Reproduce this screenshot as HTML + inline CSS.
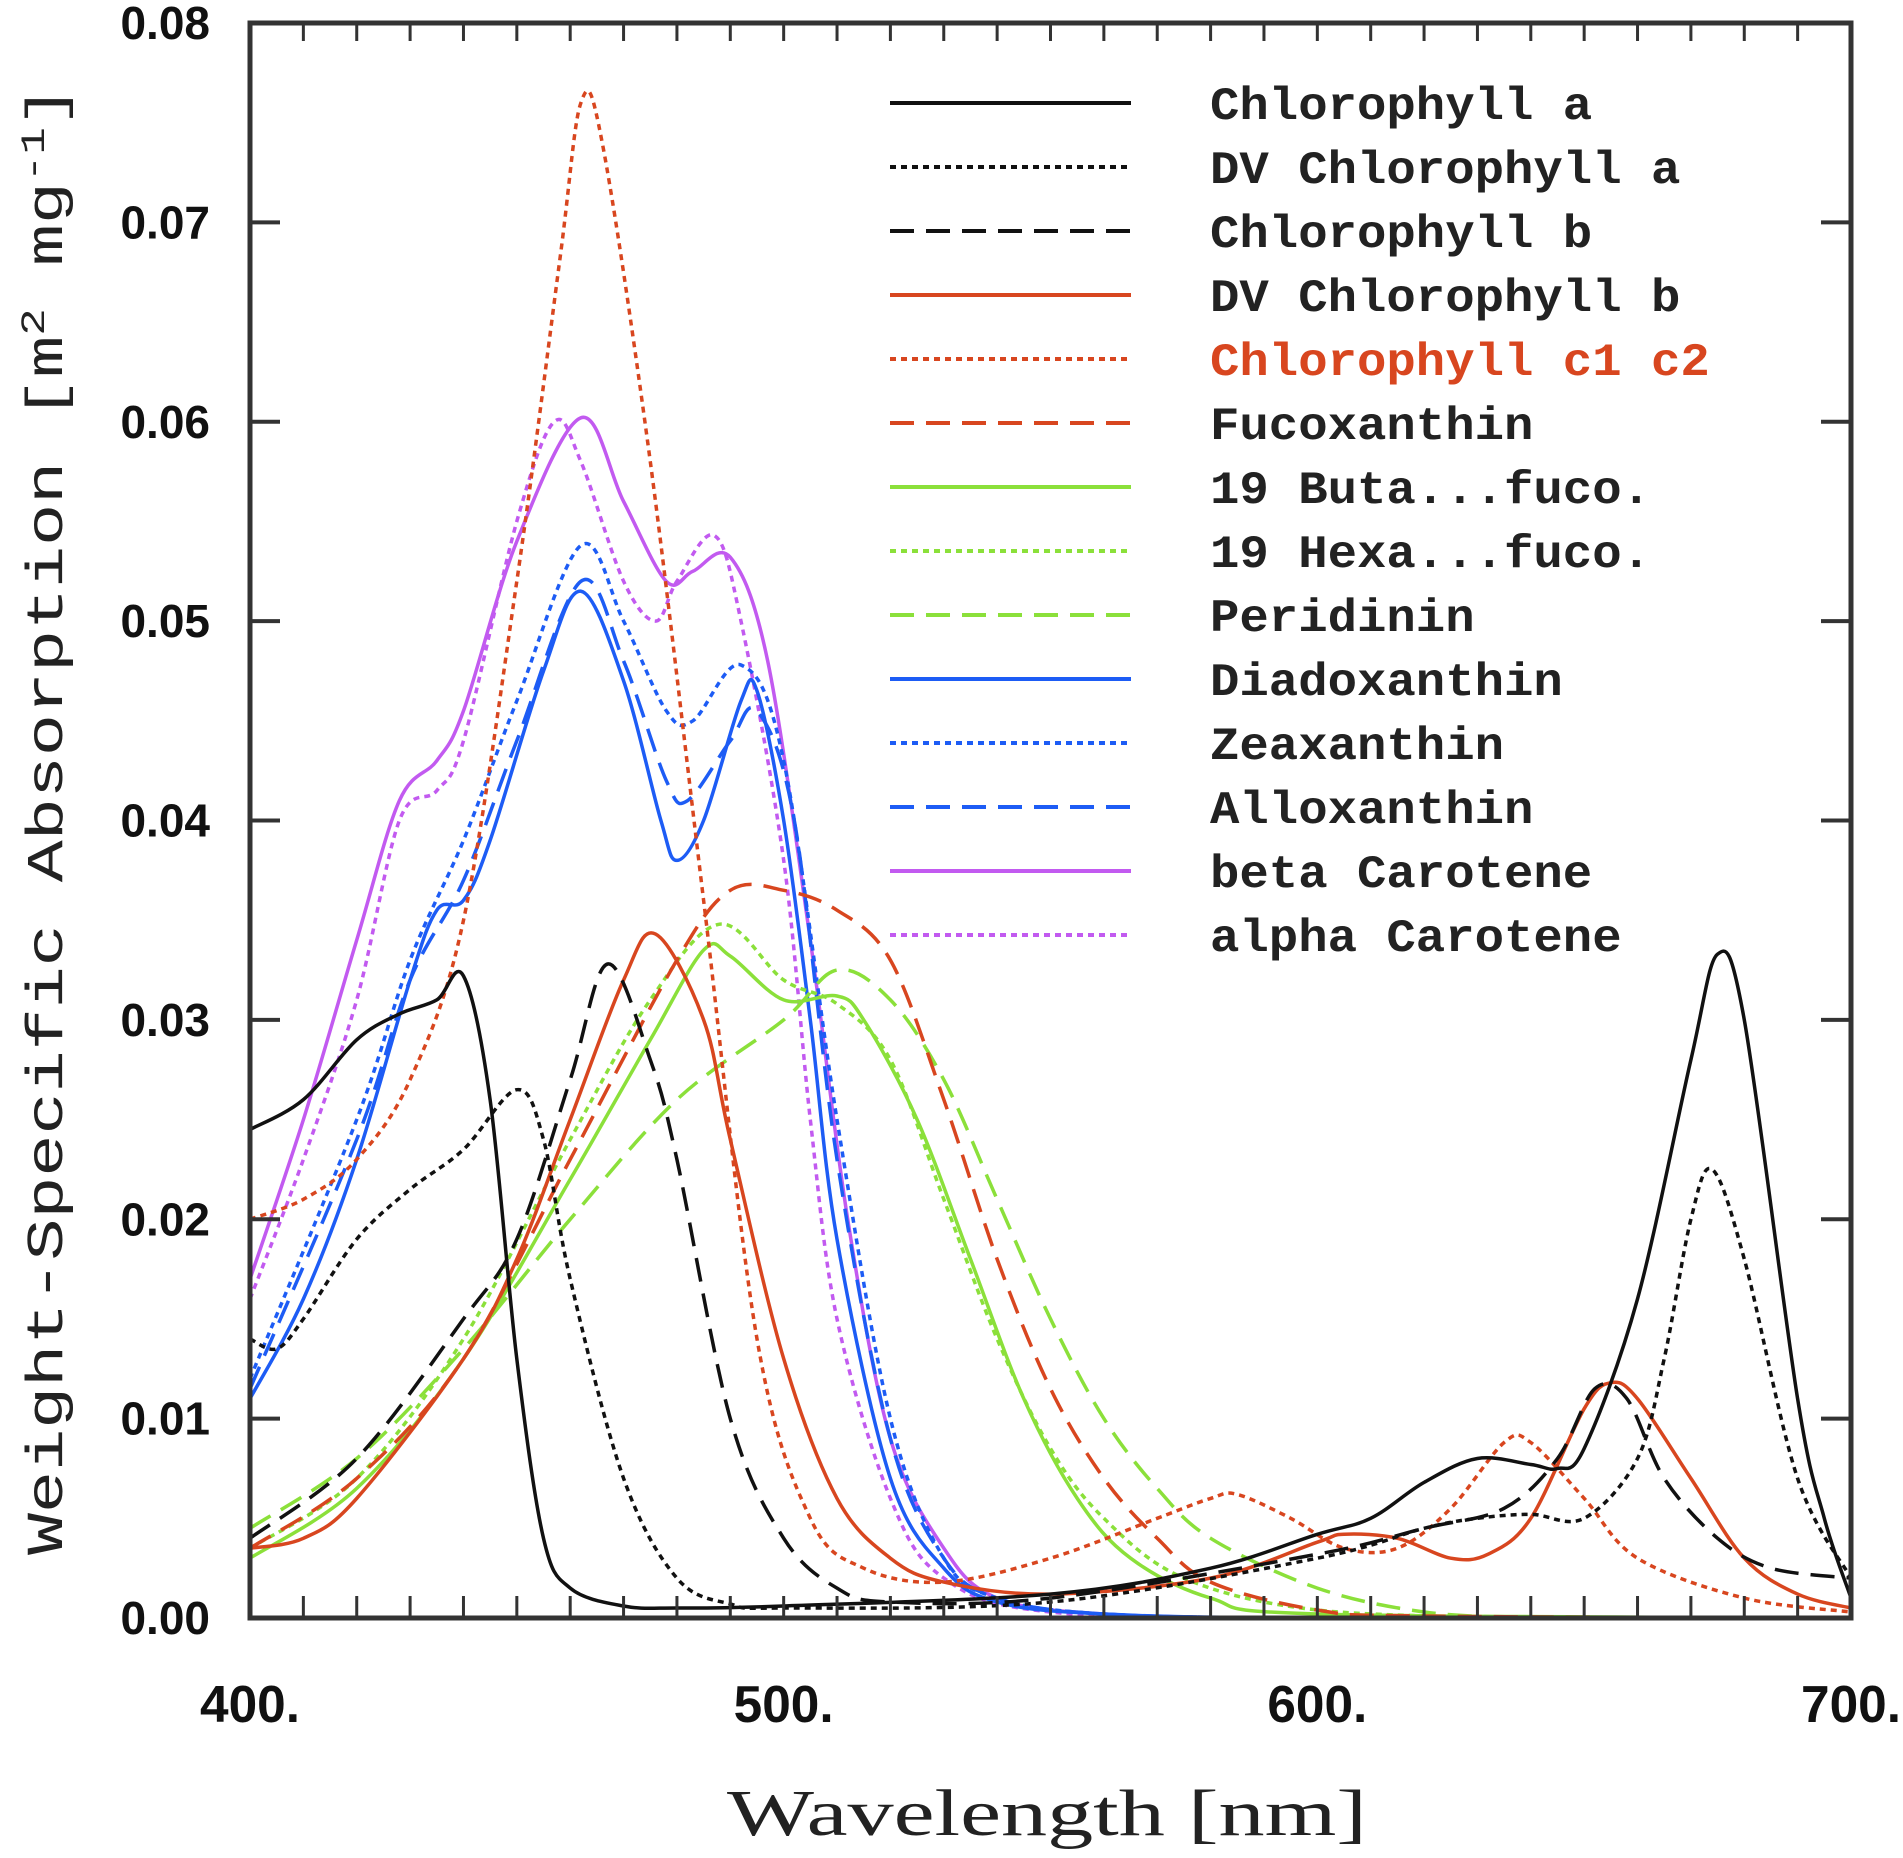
<!DOCTYPE html>
<html><head><meta charset="utf-8"><style>
html,body{margin:0;padding:0;background:#fff;width:1903px;height:1858px;overflow:hidden}
</style></head><body>
<svg id="chart" width="1903" height="1858" viewBox="0 0 1903 1858" xmlns="http://www.w3.org/2000/svg">
<g id="plot"></g>
<g id="axes"></g>
<g id="legend"></g>
<text x="1047" y="1835" text-anchor="middle" font-family="Liberation Serif, serif" font-size="66" fill="#222" textLength="640" lengthAdjust="spacingAndGlyphs">Wavelength [nm]</text>
<text transform="translate(62,820) rotate(-90)" text-anchor="middle" font-family="Liberation Mono, monospace" font-size="52" fill="#222" textLength="1470" lengthAdjust="spacingAndGlyphs">Weight-Specific Absorption [m<tspan dy="-18" font-size="34">2</tspan><tspan dy="18"> mg</tspan><tspan dy="-18" font-size="34">-1</tspan><tspan dy="18">]</tspan></text>
</svg>
<script>
const xTicks=[400,500,600,700];
const xTickLabels=["400.","500.","600.","700."];
const yTicks=[0,0.01,0.02,0.03,0.04,0.05,0.06,0.07,0.08];
const yTickLabels=["0.00","0.01","0.02","0.03","0.04","0.05","0.06","0.07","0.08"];
const seriesNames=["Chlorophyll a","DV Chlorophyll a","Chlorophyll b","DV Chlorophyll b","Chlorophyll c1 c2","Fucoxanthin","19 Buta...fuco.","19 Hexa...fuco.","Peridinin","Diadoxanthin","Zeaxanthin","Alloxanthin","beta Carotene","alpha Carotene"];
const chlaW=[400,410,420,428,435,440,445,450,455,460,470,480,500,550,580,600,610,620,630,640,645,650,660,670,675,680,690,695,700];
const chlaV=[0.0245,0.026,0.029,0.0303,0.031,0.0322,0.026,0.013,0.004,0.0015,0.0006,0.0005,0.0006,0.0012,0.0025,0.0042,0.005,0.0068,0.008,0.0077,0.0075,0.0085,0.016,0.028,0.0333,0.03,0.011,0.005,0.001];
const dvchlaW=[400,405,410,420,430,440,450,455,460,470,480,490,500,550,600,620,630,640,650,660,665,670,674,680,690,700];
const dvchlaV=[0.014,0.0135,0.015,0.019,0.0215,0.0235,0.0265,0.024,0.017,0.007,0.002,0.0007,0.0005,0.0008,0.003,0.0045,0.005,0.0052,0.005,0.008,0.013,0.02,0.0225,0.018,0.007,0.002];
const chlbW=[400,420,440,450,460,467,475,480,490,500,510,520,550,600,620,635,645,652,658,665,675,685,700];
const chlbV=[0.004,0.008,0.015,0.019,0.027,0.0328,0.028,0.023,0.01,0.004,0.0015,0.0008,0.001,0.0032,0.0045,0.0055,0.008,0.0115,0.011,0.007,0.004,0.0025,0.002];
const dvchlbW=[400,410,420,440,450,460,470,476,485,490,500,510,520,530,550,580,600,605,615,625,632,640,650,655,660,670,680,690,700];
const dvchlbV=[0.0035,0.004,0.006,0.013,0.018,0.025,0.032,0.0343,0.03,0.024,0.013,0.006,0.003,0.0018,0.0012,0.002,0.0038,0.0042,0.004,0.003,0.0032,0.005,0.0105,0.0118,0.011,0.007,0.003,0.0012,0.0005];
const chlcW=[400,410,420,430,440,450,458,462,466,475,485,495,505,515,530,550,570,580,585,595,605,615,625,635,640,650,660,680,700];
const chlcV=[0.02,0.021,0.023,0.027,0.035,0.052,0.068,0.076,0.074,0.058,0.036,0.014,0.005,0.0025,0.0018,0.003,0.005,0.006,0.0062,0.005,0.0035,0.0035,0.0055,0.0088,0.0088,0.006,0.003,0.001,0.0003];
const fucoW=[400,420,440,460,480,490,500,510,520,530,540,550,560,570,580,600,620,700];
const fucoV=[0.0035,0.007,0.013,0.023,0.033,0.0365,0.0365,0.0355,0.033,0.026,0.018,0.0115,0.007,0.004,0.0018,0.0004,0.0001,0];
const butaW=[400,420,440,460,475,485,490,500,510,515,525,535,545,555,565,580,600,700];
const butaV=[0.003,0.0065,0.013,0.022,0.029,0.0335,0.0332,0.031,0.0312,0.03,0.025,0.018,0.011,0.006,0.003,0.001,0.0002,0];
const hexaW=[400,420,440,460,475,488,500,510,520,530,540,550,560,575,600,640];
const hexaV=[0.0035,0.007,0.014,0.024,0.031,0.0348,0.032,0.0308,0.028,0.021,0.014,0.0085,0.005,0.002,0.0004,0];
const periW=[400,420,440,460,480,500,510,520,530,540,550,560,570,580,600,620,640];
const periV=[0.0045,0.008,0.0135,0.02,0.026,0.03,0.0325,0.031,0.027,0.021,0.015,0.01,0.0065,0.004,0.0015,0.0003,0];
const diadoW=[400,410,420,430,435,440,445,455,462,470,477,480,485,492,495,500,505,510,520,530,540,560,600,700];
const diadoV=[0.011,0.016,0.023,0.032,0.0355,0.036,0.039,0.0475,0.0515,0.047,0.04,0.038,0.04,0.046,0.0465,0.04,0.03,0.019,0.007,0.0025,0.0008,0.0002,0,0];
const zeaW=[400,420,430,440,450,462,470,478,483,492,500,510,520,530,540,560,600,700];
const zeaV=[0.012,0.025,0.033,0.039,0.046,0.0538,0.05,0.0455,0.045,0.0478,0.043,0.025,0.01,0.003,0.001,0.0002,0,0];
const alloW=[400,420,430,440,450,462,470,478,482,490,495,502,510,520,530,540,560,600,700];
const alloV=[0.0115,0.024,0.032,0.037,0.044,0.052,0.048,0.042,0.041,0.044,0.0455,0.04,0.023,0.009,0.003,0.001,0.0002,0,0];
const betaW=[400,410,420,428,435,440,450,462,470,478,483,490,497,505,512,520,530,540,560,600,700];
const betaV=[0.017,0.025,0.034,0.041,0.043,0.0455,0.054,0.0602,0.056,0.052,0.0525,0.0532,0.048,0.034,0.02,0.009,0.0035,0.001,0.0002,0,0];
const alphaW=[400,410,420,428,435,440,450,457,462,470,476,480,487,492,500,505,510,520,530,550,600,700];
const alphaV=[0.016,0.023,0.031,0.04,0.0415,0.044,0.055,0.06,0.058,0.052,0.05,0.052,0.0543,0.05,0.038,0.025,0.015,0.006,0.002,0.0003,0,0];

const RED="#d8461f",GREEN="#8be03a",BLUE="#1d5cf5",MAG="#c25af0",BLK="#111";
const DOT="6 5",DASH="24 12";
const styles=[[BLK,null],[BLK,DOT],[BLK,DASH],[RED,null],[RED,DOT],[RED,DASH],[GREEN,null],[GREEN,DOT],[GREEN,DASH],[BLUE,null],[BLUE,DOT],[BLUE,DASH],[MAG,null],[MAG,DOT]];
const data=[[chlaW,chlaV],[dvchlaW,dvchlaV],[chlbW,chlbV],[dvchlbW,dvchlbV],[chlcW,chlcV],[fucoW,fucoV],[butaW,butaV],[hexaW,hexaV],[periW,periV],[diadoW,diadoV],[zeaW,zeaV],[alloW,alloV],[betaW,betaV],[alphaW,alphaV]];

const L=250,R=1851,T=23,B=1618;
const X=w=>L+(w-400)/300*(R-L);
const Y=v=>B-v/0.08*(B-T);
const NS="http://www.w3.org/2000/svg";
function mk(tag,attrs,parent){const e=document.createElementNS(NS,tag);for(const k in attrs)e.setAttribute(k,attrs[k]);parent.appendChild(e);return e;}
function smooth(pts){let d=`M${pts[0][0]},${pts[0][1]}`;for(let i=0;i<pts.length-1;i++){const p0=pts[Math.max(0,i-1)],p1=pts[i],p2=pts[i+1],p3=pts[Math.min(pts.length-1,i+2)];const c1=[p1[0]+(p2[0]-p0[0])/6,p1[1]+(p2[1]-p0[1])/6],c2=[p2[0]-(p3[0]-p1[0])/6,p2[1]-(p3[1]-p1[1])/6];d+=` C${c1[0].toFixed(1)},${c1[1].toFixed(1)} ${c2[0].toFixed(1)},${c2[1].toFixed(1)} ${p2[0].toFixed(1)},${p2[1].toFixed(1)}`;}return d;}

const plot=document.getElementById('plot');
const drawOrder=[12,13,9,10,11,6,7,8,5,4,3,2,1,0];
drawOrder.forEach(i=>{
  const [ws,vs]=data[i];
  const pts=ws.map((w,j)=>[X(w),Y(Math.max(0,vs[j]))]);
  const p=mk('path',{d:smooth(pts),fill:'none',stroke:styles[i][0],'stroke-width':3.5},plot);
  if(styles[i][1])p.setAttribute('stroke-dasharray',styles[i][1]);
  
  
});

const axes=document.getElementById('axes');
const frame=mk('rect',{x:L,y:T,width:R-L,height:B-T,fill:'none',stroke:'#333','stroke-width':5},axes);


for(let w=410;w<700;w+=10){
  const tb=mk('line',{x1:X(w),x2:X(w),y1:B,y2:B-22,stroke:'#333','stroke-width':3},axes);
  
  
  const tt=mk('line',{x1:X(w),x2:X(w),y1:T,y2:T+18,stroke:'#333','stroke-width':3},axes);
  
  
}
xTicks.forEach((w,i)=>{
  const t=mk('text',{x:X(w),y:1722,'text-anchor':'middle','font-family':'Liberation Sans Narrow, Liberation Sans, sans-serif','font-size':52,fill:'#111','font-weight':'bold',textLength:100,lengthAdjust:'spacingAndGlyphs'},axes);
  t.textContent=xTickLabels[i];
  
  
});
yTicks.forEach((v,i)=>{
  if(v>0&&v<0.08){
    const a=mk('line',{x1:L,x2:L+30,y1:Y(v),y2:Y(v),stroke:'#333','stroke-width':4},axes);
    
    
    const b=mk('line',{x1:R,x2:R-30,y1:Y(v),y2:Y(v),stroke:'#333','stroke-width':4},axes);
    
    
  }
  const t=mk('text',{x:210,y:Y(v)+16,'text-anchor':'end','font-family':'Liberation Sans, sans-serif','font-size':46,fill:'#111','font-weight':'bold'},axes);
  t.textContent=yTickLabels[i];
  
  
});

const leg=document.getElementById('legend');
seriesNames.forEach((n,i)=>{
  const y=103+i*64;
  const g=mk('g',{},leg);
  
  
  const l=mk('line',{x1:890,x2:1131,y1:y,y2:y,stroke:styles[i][0],'stroke-width':4},g);
  if(styles[i][1])l.setAttribute('stroke-dasharray',styles[i][1]);
  
  
  const t=mk('text',{x:1210,y:y+16,'font-family':'Liberation Mono, monospace','font-size':46,'font-weight':'bold',fill:i===4?RED:'#222',textLength:n.length*29.4,lengthAdjust:'spacingAndGlyphs'},g);
  t.textContent=n;
  
  
});
</script>
</body></html>
